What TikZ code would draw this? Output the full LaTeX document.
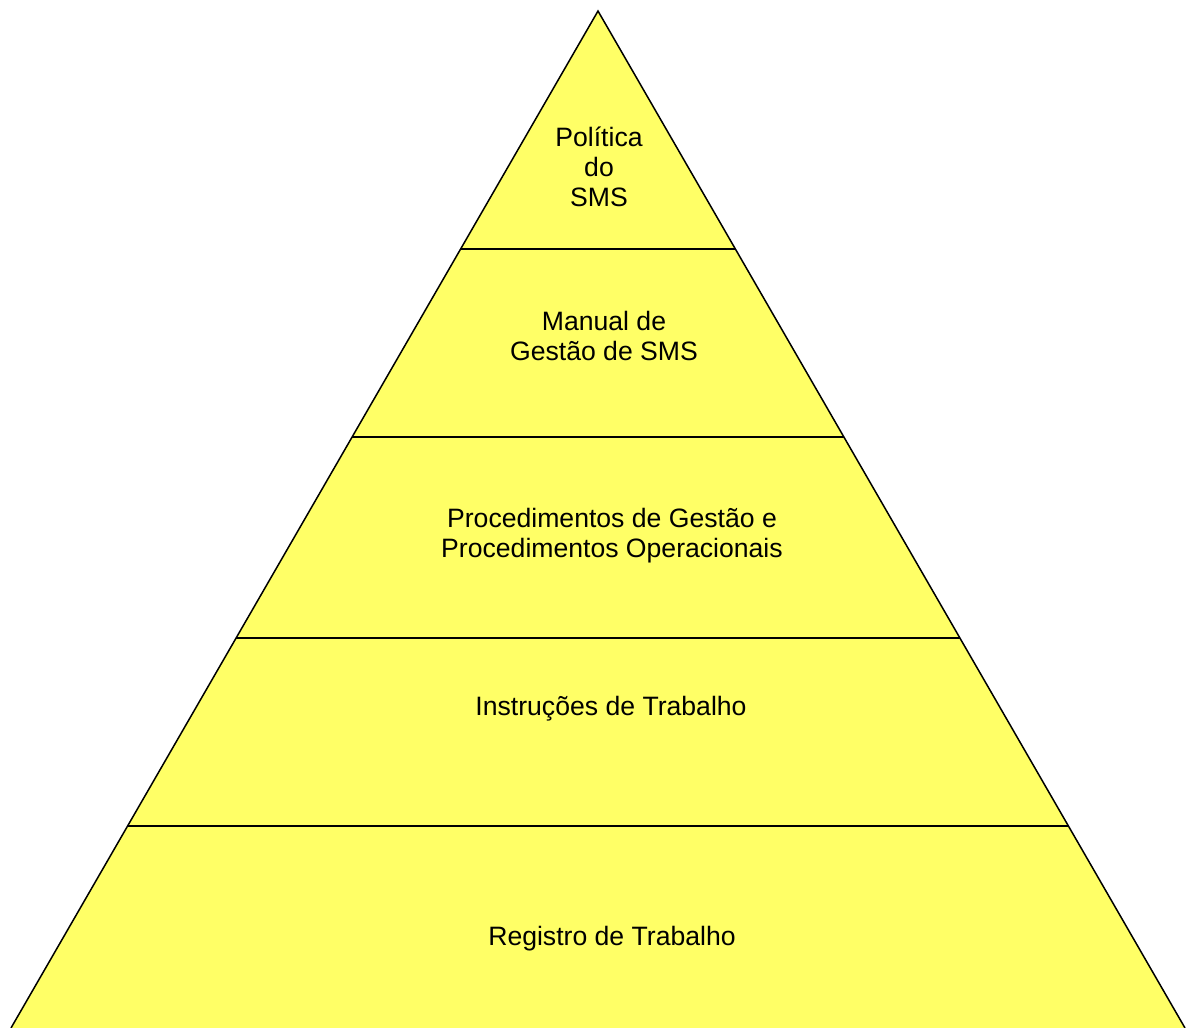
\documentclass[tikz,border=0pt]{standalone}
\usepackage{fontspec}
\setmainfont{Liberation Sans}
\usetikzlibrary{calc, positioning}
\definecolor{pyryellow}{RGB}{255,255,102}
\tikzstyle{levellabel} = [align=center, inner sep=0pt, font=\fontsize{26.6}{30}\selectfont]
\tikzstyle{edge} = [draw, line width=1.5pt, line join=miter]

\begin{document}
\begin{tikzpicture}[x=1pt, y=-1pt]
\useasboundingbox (0,0) rectangle (1187,1028);
\coordinate (apex) at (598,11);
\coordinate (bl) at (11,1028);
\coordinate (br) at (1185,1028);
\fill [pyryellow] (apex) -- (bl) -- (br) -- cycle;
\path[edge] (bl) -- (apex) -- (br);
% separators between the levels
\foreach \y in {249,437,638,826}
  \path[edge] ($(apex)!{(\y-11)/1017}!(bl)$) -- ($(apex)!{(\y-11)/1017}!(br)$);
\node [levellabel] (politica) at (599,167) {Política\\do\\SMS};
\node [levellabel] (manual) at (604,336) {Manual de\\Gestão de SMS};
\node [levellabel] (procedimentos) at (612,536) {Procedimentos de Gestão e\\Procedimentos Operacionais};
\node [levellabel] (instrucoes) at (611,709) {Instruções de Trabalho};
\node [levellabel] (registro) at (612,939) {Registro de Trabalho};
\end{tikzpicture}
\end{document}
